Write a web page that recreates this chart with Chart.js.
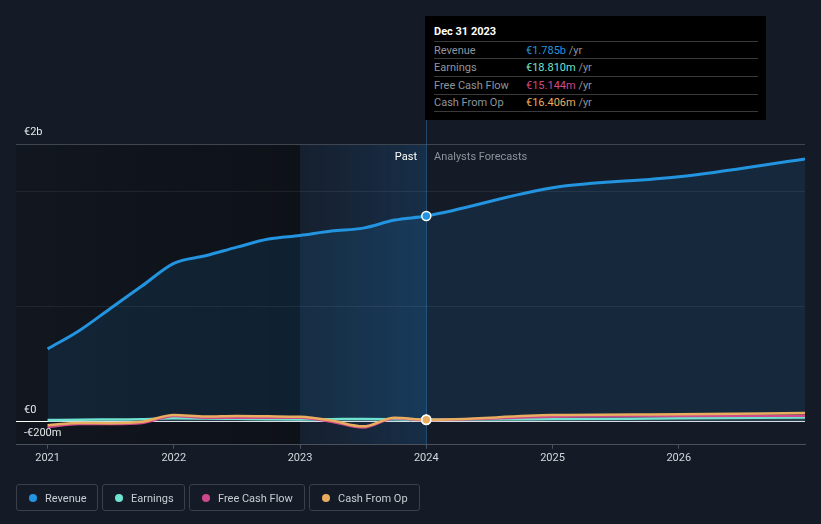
<!DOCTYPE html>
<html><head><meta charset="utf-8">
<script src="https://cdn.jsdelivr.net/npm/chart.js@4/dist/chart.umd.min.js"></script>
<style>
html,body{margin:0;padding:0;background:#151b26;}
#wrap{position:relative;width:821px;height:524px;overflow:hidden;font-family:Roboto,"Noto Sans",sans-serif;}
canvas{position:absolute;left:0;top:0;}
#tip{position:absolute;left:425px;top:16px;width:341px;height:104px;background:#000;}
#tip .t{position:absolute;left:9px;top:15px;transform:translateY(-50%);color:#fff;font-size:11px;font-weight:700;}
#tip .sep{position:absolute;left:9px;width:324px;height:1px;background:#3a3a3a;}
#tip .row{position:absolute;left:9px;font-size:11px;color:#8f959d;white-space:nowrap;transform:translateY(-50%);}
#tip .row .v{position:absolute;left:92px;top:0;}
#tip .row .u{color:#8f959d;}
.lbl{position:absolute;font-size:11px;white-space:nowrap;transform:translateY(-50%);}
.lg{position:absolute;top:484px;height:27px;border:1px solid #3b404b;border-radius:3px;box-sizing:border-box;font-size:11px;color:#c9cdd3;}
.lg .d{position:absolute;left:12px;top:8.5px;width:8px;height:8px;border-radius:50%;}
.lg .s{position:absolute;left:28px;top:12.5px;transform:translateY(-50%);white-space:nowrap;}
</style></head>
<body><div id="wrap"><canvas id="c" width="821" height="524"></canvas>
<div id="tip">
  <div class="t">Dec 31 2023</div>
  <div class="sep" style="top:25px"></div>
  <div class="row" style="top:33.5px">Revenue<span class="v"><span style="color:#2394df">€1.785b</span> <span class="u">/yr</span></span></div>
  <div class="sep" style="top:42px"></div>
  <div class="row" style="top:51px">Earnings<span class="v"><span style="color:#6fe3d0">€18.810m</span> <span class="u">/yr</span></span></div>
  <div class="sep" style="top:60px"></div>
  <div class="row" style="top:68.5px">Free Cash Flow<span class="v"><span style="color:#cc4a8c">€15.144m</span> <span class="u">/yr</span></span></div>
  <div class="sep" style="top:77.5px"></div>
  <div class="row" style="top:85.5px">Cash From Op<span class="v"><span style="color:#e9ad5f">€16.406m</span> <span class="u">/yr</span></span></div>
  <div class="sep" style="top:95px"></div>
</div>
<div class="lbl" style="right:404px;top:156px;color:#fff">Past</div>
<div class="lbl" style="left:434px;top:156px;color:#8d939b">Analysts Forecasts</div>
<div class="lg" style="left:16px;width:82px"><span class="d" style="background:#2394df"></span><span class="s">Revenue</span></div>
<div class="lg" style="left:102px;width:83px"><span class="d" style="background:#6fe3d0"></span><span class="s">Earnings</span></div>
<div class="lg" style="left:189px;width:116px"><span class="d" style="background:#cc4a8c"></span><span class="s">Free Cash Flow</span></div>
<div class="lg" style="left:309px;width:111px"><span class="d" style="background:#e9ad5f"></span><span class="s">Cash From Op</span></div>
</div>
<script>
// periods as decimal years (end of period)
const periods = [2021.0,2021.25,2021.5,2021.75,2022.0,2022.25,2022.5,2022.75,2023.0,2023.25,2023.5,2023.75,2024.0,2025.0,2026.0,2027.0];
// values in € billions
const revenue  = [0.632,0.79,0.985,1.18,1.375,1.44,1.515,1.585,1.617,1.655,1.68,1.75,1.785,2.03,2.125,2.28];
const earnings = [0.015,0.018,0.02,0.022,0.03,0.028,0.025,0.022,0.02,0.022,0.024,0.022,0.0188,0.023,0.03,0.036];
const freeCashFlow = [-0.045,-0.02,-0.02,-0.01,0.05,0.035,0.035,0.035,0.035,0.0,-0.05,0.03,0.0151,0.043,0.05,0.053];
const cashFromOp   = [-0.03,-0.01,-0.012,0.0,0.058,0.045,0.05,0.047,0.043,0.01,-0.04,0.035,0.0164,0.058,0.065,0.076];
const xTicks = [2021,2022,2023,2024,2025,2026];
const yTicks = [-0.2,0,1,2,2.41];
const yTickLabels = ['-€200m','€0','','','€2b'];
const xMin = 2020.75, xMax = 2027.0, yMin = -0.2, yMax = 2.41;
const highlightStart = 2023.0, nowX = 2024.0;

const pts = arr => periods.map((p,i)=>({x:p,y:arr[i]}));
const nowIdx = periods.indexOf(nowX);
const mkPoint = (color) => ({
  pointRadius: c => c.dataIndex === nowIdx ? 4.5 : 0,
  pointHoverRadius: 0,
  pointBackgroundColor: color,
  pointBorderColor: '#ffffff',
  pointBorderWidth: 1.5
});

const bgPlugin = {
  id:'bg',
  beforeDraw(chart){
    const {ctx, chartArea:a, scales:{x}} = chart;
    const x0 = x.getPixelForValue(xMin), x1 = x.getPixelForValue(highlightStart), x2 = x.getPixelForValue(nowX);
    ctx.save();
    let g = ctx.createLinearGradient(x0,0,x1,0);
    g.addColorStop(0,'rgba(8,10,14,0.25)');
    g.addColorStop(1,'rgba(8,10,14,0.55)');
    ctx.fillStyle = g;
    ctx.fillRect(x0,a.top,x1-x0,a.bottom-a.top);
    g = ctx.createLinearGradient(x1,0,x2,0);
    g.addColorStop(0,'rgba(30,80,130,0.10)');
    g.addColorStop(1,'rgba(30,100,165,0.28)');
    ctx.fillStyle = g;
    ctx.fillRect(x1,a.top,x2-x1,a.bottom-a.top);
    ctx.restore();
  },
  beforeDatasetsDraw(chart){
    const {ctx, chartArea:a, scales:{x}} = chart;
    const px = Math.round(x.getPixelForValue(nowX))+0.5;
    ctx.save();
    ctx.strokeStyle = 'rgba(45,110,170,0.55)';
    ctx.lineWidth = 1;
    ctx.beginPath(); ctx.moveTo(px,16); ctx.lineTo(px,a.bottom); ctx.stroke();
    ctx.restore();
  }
};

new Chart(document.getElementById('c'), {
  type:'line',
  data:{datasets:[
    {label:'Cash From Op', data:pts(cashFromOp), borderColor:'#e9ad5f', borderWidth:2.5, fill:false, cubicInterpolationMode:'monotone', order:0, ...mkPoint('#e9ad5f')},
    {label:'Free Cash Flow', data:pts(freeCashFlow), borderColor:'#cc4a8c', borderWidth:2.5, fill:false, cubicInterpolationMode:'monotone', order:1, ...mkPoint('#cc4a8c')},
    {label:'Earnings', data:pts(earnings), borderColor:'#6fe3d0', borderWidth:2.5, fill:{target:'origin', above:'rgba(120,130,140,0.25)', below:'rgba(120,130,140,0.25)'}, cubicInterpolationMode:'monotone', order:2, ...mkPoint('#6fe3d0')},
    {label:'Revenue', data:pts(revenue), borderColor:'#2394df', borderWidth:3, fill:{target:'origin', above:'rgba(35,148,223,0.12)'}, cubicInterpolationMode:'monotone', order:3, ...mkPoint('#2394df')}
  ]},
  options:{
    responsive:false, animation:false, devicePixelRatio:1,
    layout:{padding:{left:16,right:16,top:144,bottom:56}},
    plugins:{legend:{display:false}, tooltip:{enabled:false}},
    events:[],
    scales:{
      x:{type:'linear', min:xMin, max:xMax,
        afterBuildTicks: s => { s.ticks = xTicks.map(v=>({value:v})); },
        ticks:{color:'#d4d7dc', font:{family:'Roboto', size:11}, padding:3, maxRotation:0, callback:v=>String(v)},
        grid:{drawOnChartArea:false, drawTicks:true, tickLength:4, color:'#4b515b'},
        border:{display:true, color:'#4b515b', width:1}
      },
      y:{type:'linear', min:yMin, max:yMax,
        afterBuildTicks: s => { s.ticks = yTicks.map(v=>({value:v})); },
        afterFit: s => { s.width = 0; },
        ticks:{mirror:true, padding:8, labelOffset:-12, color:'#e6e8eb', font:{family:'Roboto', size:11},
          callback:(v)=>{ const i = yTicks.indexOf(v); return i>=0 ? yTickLabels[i] : ''; }},
        grid:{drawTicks:false, lineWidth:1,
          color: c => c.tick.value === 0 ? '#ffffff' : (c.tick.value === yMax ? '#3f4651' : (c.tick.value === yMin ? 'rgba(0,0,0,0)' : 'rgba(255,255,255,0.07)'))},
        border:{display:false}
      }
    }
  },
  plugins:[bgPlugin]
});
</script>
</body></html>
